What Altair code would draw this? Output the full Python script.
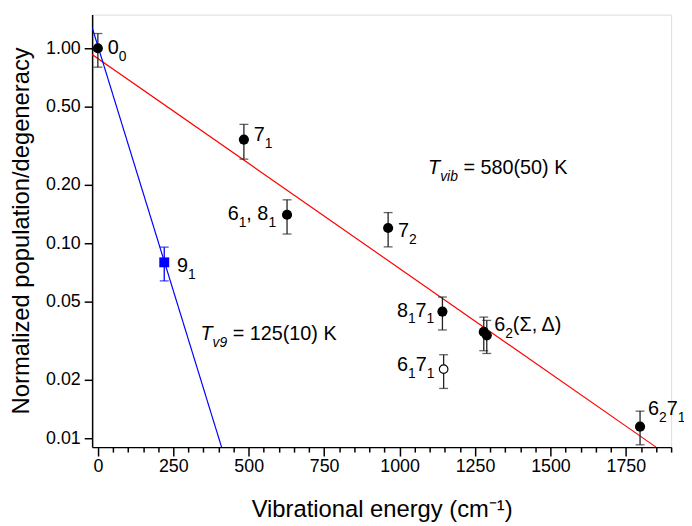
import altair as alt
import pandas as pd

FONT = "Liberation Sans"

# ---------------- data ----------------
state = ["0_0", "7_1", "6_1,8_1", "7_2", "9_1", "8_1 7_1", "6_2 Sigma", "6_2 Delta", "6_1 7_1", "6_2 7_1"]
energy = [0, 484, 627, 962, 220, 1142, 1279, 1289, 1146, 1797]
pop = [1.00, 0.340, 0.140, 0.1197, 0.0798, 0.0446, 0.0351, 0.0337, 0.0226, 0.01146]
pop_lo = [0.80, 0.270, 0.1115, 0.0958, 0.0641, 0.0359, 0.0281, 0.0272, 0.0180, 0.00925]
pop_hi = [1.19, 0.407, 0.167, 0.1436, 0.0955, 0.053, 0.0418, 0.0402, 0.0268, 0.01377]
marker = ["filled", "filled", "filled", "filled", "square", "filled", "filled", "filled", "open", "filled"]

# fitted Boltzmann lines (endpoints)
fit_vib_x = [-19, 1850]
fit_vib_y = [0.929, 0.009]
fit_v9_x = [-19, 410]
fit_v9_y = [1.278, 0.009]

# point labels: segments (text, style) n=normal, s=subscript, ti=italic, si=italic subscript
labels = {
    "0_0": [("0", "n"), ("0", "s")],
    "7_1": [("7", "n"), ("1", "s")],
    "6_1,8_1": [("6", "n"), ("1", "s"), (", 8", "n"), ("1", "s")],
    "7_2": [("7", "n"), ("2", "s")],
    "9_1": [("9", "n"), ("1", "s")],
    "8_1 7_1": [("8", "n"), ("1", "s"), ("7", "n"), ("1", "s")],
    "6_2 Sigma": [("6", "n"), ("2", "s"), ("(Σ, Δ)", "n")],
    "6_1 7_1": [("6", "n"), ("1", "s"), ("7", "n"), ("1", "s")],
    "6_2 7_1": [("6", "n"), ("2", "s"), ("7", "n"), ("1", "s")],
}
# pixel offsets of label start (left, baseline) relative to the point
label_offset = {
    "0_0": (10, 6), "7_1": (10, 1), "6_1,8_1": (-60, 5), "7_2": (10, 9),
    "9_1": (13, 10), "8_1 7_1": (-46, 5), "6_2 Sigma": (10.5, -1),
    "6_1 7_1": (-47, 2), "6_2 7_1": (8, -12),
}
# temperature annotations
temp_text = [
    [("T", "ti"), ("vib", "si"), (" = 580(50) K", "n")],
    [("T", "ti"), ("v9", "si"), (" = 125(10) K", "n")],
]
temp_x = [1094.5, 340]
temp_y = [0.2266, 0.0319]

# ---------------- helpers ----------------
MAIN, SUB, SUBDY = 20, 14, 7
ADV = {"0": .556, "1": .556, "2": .556, "3": .556, "4": .556, "5": .556, "6": .556,
       "7": .556, "8": .556, "9": .556, ",": .278, " ": .278, "(": .333, ")": .333,
       "Σ": .6, "Δ": .668, "T": .611, "v": .5, "i": .222, "b": .556, "=": .584, "K": .667}


def seg_width(s, size):
    return sum(ADV.get(c, .556) for c in s) * size


x_scale = alt.Scale(domain=[-19, 1900], nice=False, zero=False)
y_scale = alt.Scale(type="log", domain=[0.009, 1.488], nice=False)

x_axis = alt.Axis(
    title="Vibrational energy (cm⁻¹)",
    values=list(range(0, 1901, 50)),
    format="d",
    labelExpr="datum.value % 250 === 0 ? datum.label : ''",
    labelOverlap=False,
    labelFontSize=18, labelFont=FONT, labelColor="black", labelPadding=2,
    tickSize={"condition": {"test": "datum.value % 250 === 0", "value": 9}, "value": 5},
    tickColor="black", tickWidth=1.5, domainColor="black", domainWidth=1.5,
    titleFontSize=24, titleFont=FONT, titleFontWeight="normal", titleColor="black",
    titleBaseline="alphabetic", titleY=70, grid=False,
)
y_axis = alt.Axis(
    title="Normalized population/degeneracy",
    values=[0.01, 0.02, 0.05, 0.1, 0.2, 0.5, 1.0],
    format=".2f",
    labelFontSize=18, labelFont=FONT, labelColor="black", labelPadding=4,
    tickSize=8, tickColor="black", tickWidth=1.5, domainColor="black", domainWidth=1.5,
    titleFontSize=24, titleFont=FONT, titleFontWeight="normal", titleColor="black",
    titleBaseline="alphabetic", titleAngle=270, titleX=-64, titleY=218, grid=False,
)


def X(field="energy"):
    return alt.X(field + ":Q", scale=x_scale, axis=x_axis)


def Y(field="pop"):
    return alt.Y(field + ":Q", scale=y_scale, axis=y_axis)


def text_layers(x, y, segs, dx0, dy0):
    out = []
    cx = dx0
    for txt, st in segs:
        size = MAIN if st in ("n", "ti") else SUB
        dy = dy0 + (SUBDY if st in ("s", "si") else 0)
        italic = st in ("ti", "si")
        lead = len(txt) - len(txt.lstrip(" "))
        cx += seg_width(" " * lead, size)
        body = txt.lstrip(" ")
        d = pd.DataFrame({"energy": [x], "pop": [y], "t": [body]})
        out.append(
            alt.Chart(d).mark_text(
                align="left", baseline="alphabetic", dx=cx, dy=dy, fontSize=size,
                font=FONT, fontStyle="italic" if italic else "normal", color="black"
            ).encode(x=X(), y=Y(), text="t:N")
        )
        cx += seg_width(body, size)
    return out


df = pd.DataFrame({"state": state, "energy": energy, "pop": pop, "lo": pop_lo,
                   "hi": pop_hi, "marker": marker})

red = alt.Chart(pd.DataFrame({"energy": fit_vib_x, "pop": fit_vib_y})).mark_line(
    color="#ff0000", strokeWidth=1.2, clip=True).encode(x=X(), y=Y())
blue = alt.Chart(pd.DataFrame({"energy": fit_v9_x, "pop": fit_v9_y})).mark_line(
    color="#0000ff", strokeWidth=1.2, clip=True).encode(x=X(), y=Y())

base = alt.Chart(df)
black_df = base.transform_filter("datum.marker !== 'square'")
blue_df = base.transform_filter("datum.marker === 'square'")

layers = [red, blue]
for src, col in ((black_df, "#222222"), (blue_df, "#0000ff")):
    layers.append(src.mark_rule(color=col, strokeWidth=1.3).encode(
        x=X(), y=Y("lo"), y2="hi:Q"))
    for f in ("lo", "hi"):
        layers.append(src.mark_tick(orient="horizontal", size=9, thickness=1.3, color=col).encode(
            x=X(), y=Y(f)))

layers.append(base.transform_filter("datum.marker === 'filled'").mark_point(
    shape="circle", filled=True, size=105, color="black", opacity=1).encode(x=X(), y=Y()))
layers.append(base.transform_filter("datum.marker === 'open'").mark_point(
    shape="circle", filled=True, size=75, fill="white", stroke="black", strokeWidth=1.2,
    opacity=1).encode(x=X(), y=Y()))
layers.append(base.transform_filter("datum.marker === 'square'").mark_point(
    shape="square", filled=True, size=100, color="#0000ff", opacity=1).encode(x=X(), y=Y()))

for s, segs in labels.items():
    i = state.index(s)
    dx0, dy0 = label_offset[s]
    layers += text_layers(energy[i], pop[i], segs, dx0, dy0)
for segs, tx, ty in zip(temp_text, temp_x, temp_y):
    layers += text_layers(tx, ty, segs, 0, 0)

chart = alt.layer(*layers).properties(
    width=585, height=437,
    autosize=alt.AutoSizeParams(type="none"),
    padding={"left": 85, "top": 4, "right": 13, "bottom": 76},
).configure_view(strokeWidth=0).configure(background="white")

chart.save("out.html", embed_options={"renderer": "svg", "actions": False})
